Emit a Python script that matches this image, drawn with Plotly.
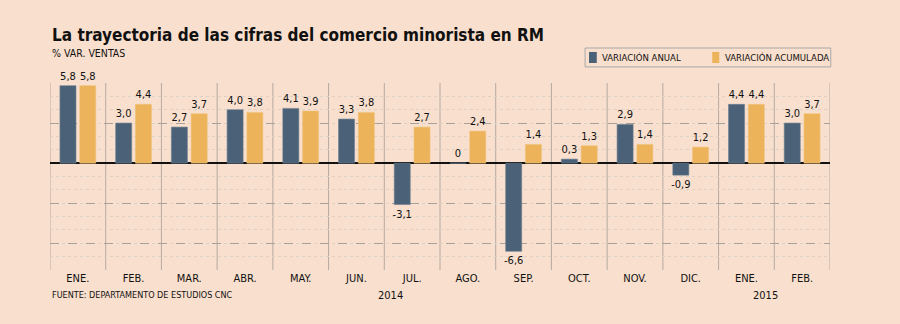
import plotly.graph_objects as go

months = ["ENE.", "FEB.", "MAR.", "ABR.", "MAY.", "JUN.", "JUL.", "AGO.", "SEP.", "OCT.", "NOV.", "DIC.", "ENE.", "FEB."]
anual = [5.8, 3.0, 2.7, 4.0, 4.1, 3.3, -3.1, 0.0, -6.6, 0.3, 2.9, -0.9, 4.4, 3.0]
acumulada = [5.8, 4.4, 3.7, 3.8, 3.9, 3.8, 2.7, 2.4, 1.4, 1.3, 1.4, 1.2, 4.4, 3.7]
series_names = ["VARIACIÓN ANUAL", "VARIACIÓN ACUMULADA"]
years = ["2014", "2015"]
year_pos = [5.61, 12.35]

BG = "#f9dfcd"
BLUE = "#4a6177"
ORANGE = "#ecb35a"
FONT = "DejaVu Sans Condensed, DejaVu Sans, sans-serif"

def fmt(v):
    if v == 0:
        return "0"
    return f"{v:.1f}".replace(".", ",")

xs = list(range(len(months)))

fig = go.Figure()
fig.add_trace(go.Bar(
    x=xs, y=anual, name=series_names[0],
    marker=dict(color=BLUE, line=dict(color="#6b7f92", width=0.6)),
    text=[fmt(v) for v in anual], textposition="outside", constraintext="none",
    textfont=dict(family=FONT, size=11, color="#111"),
    cliponaxis=False,
))
fig.add_trace(go.Bar(
    x=xs, y=acumulada, name=series_names[1],
    marker=dict(color=ORANGE, line=dict(color="#f0c27a", width=0.6)),
    text=[fmt(v) for v in acumulada], textposition="outside", constraintext="none",
    textfont=dict(family=FONT, size=11, color="#111"),
    cliponaxis=False,
))

# vertical separators between categories
shapes = []
for k in range(len(months) + 1):
    shapes.append(dict(type="line", xref="x", yref="paper", x0=k - 0.5, x1=k - 0.5,
                       y0=0, y1=1, line=dict(color="#b5aaa2", width=1), layer="below"))

# custom legend box and swatches
shapes.append(dict(type="rect", xref="paper", yref="paper", x0=0.686, x1=1.001, y0=1.086, y1=1.187,
                   line=dict(color="#a9a9a9", width=1), fillcolor=BG))
shapes.append(dict(type="rect", xref="paper", yref="paper", x0=0.691, x1=0.701, y0=1.107, y1=1.166,
                   line=dict(width=0), fillcolor=BLUE))
shapes.append(dict(type="rect", xref="paper", yref="paper", x0=0.849, x1=0.858, y0=1.107, y1=1.166,
                   line=dict(width=0), fillcolor=ORANGE))

fig.update_layout(
    width=900, height=324,
    paper_bgcolor=BG, plot_bgcolor=BG,
    margin=dict(l=50, r=70, t=83, b=54),
    barmode="group", bargap=0.29, bargroupgap=0.19,
    separators=",.",
    showlegend=False,
    xaxis=dict(range=[-0.5, len(months) - 0.5], tickvals=xs, ticktext=months,
               showgrid=False, zeroline=False, ticks="", showline=False,
               tickfont=dict(family=FONT, size=11, color="#111")),
    yaxis=dict(range=[-8, 6], tickvals=[-6, -3, 3], showticklabels=False,
               showgrid=True, gridcolor="#a8a09a", griddash="dash", gridwidth=1,
               zeroline=True, zerolinecolor="#111", zerolinewidth=1.5,
               minor=dict(dtick=1, showgrid=True, gridcolor="#ddd0c5", griddash="dot", gridwidth=1),
               ticks=""),
    shapes=shapes,
    font=dict(family=FONT, color="#111"),
)

ann = [
    dict(text="<b>La trayectoria de las cifras del comercio minorista en RM</b>",
         xref="paper", yref="paper", x=0, y=1.257, xanchor="left", yanchor="middle",
         showarrow=False, font=dict(family=FONT, size=17, color="#111")),
    dict(text="% VAR. VENTAS", xref="paper", yref="paper", x=0, y=1.16,
         xanchor="left", yanchor="middle", showarrow=False,
         font=dict(family=FONT, size=10.5, color="#111")),
    dict(text="FUENTE: DEPARTAMENTO DE ESTUDIOS CNC", xref="paper", yref="paper", x=0, y=-0.134,
         xanchor="left", yanchor="middle", showarrow=False,
         font=dict(family=FONT, size=9, color="#111")),
    dict(text=series_names[0], xref="paper", yref="paper", x=0.705, y=1.136,
         xanchor="left", yanchor="middle", showarrow=False,
         font=dict(family=FONT, size=9.5, color="#111")),
    dict(text=series_names[1], xref="paper", yref="paper", x=0.863, y=1.136,
         xanchor="left", yanchor="middle", showarrow=False,
         font=dict(family=FONT, size=9.5, color="#111")),
]
for yl, xp in zip(years, year_pos):
    ann.append(dict(text=yl, xref="x", yref="paper", x=xp, y=-0.134, xanchor="center",
                    yanchor="middle", showarrow=False,
                    font=dict(family=FONT, size=11, color="#111")))
fig.update_layout(annotations=ann)

fig.write_html("out.html")
